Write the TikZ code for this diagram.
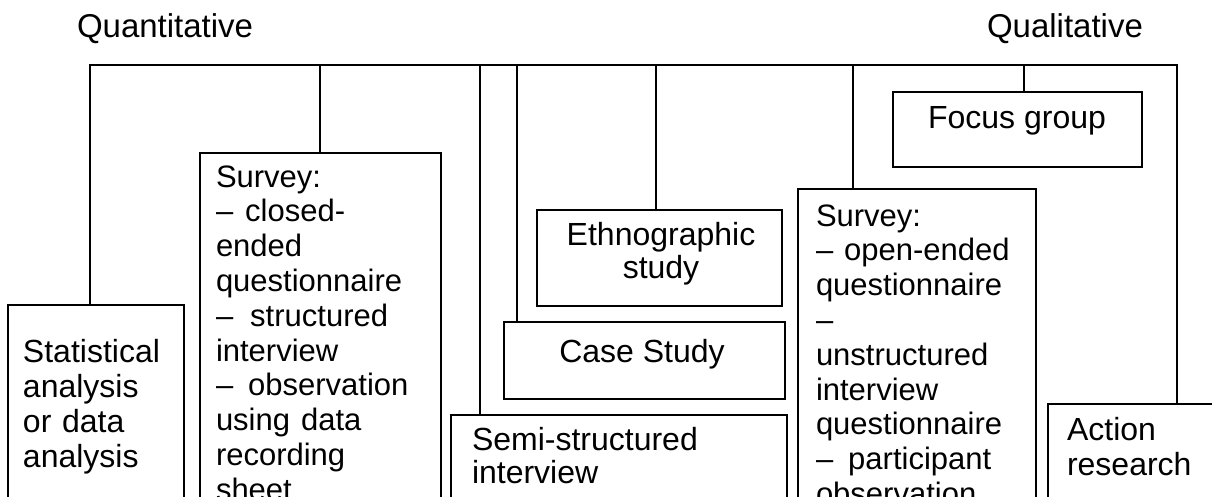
\documentclass[tikz,border=0pt]{standalone}
\usepackage{fontspec}
\setmainfont{Liberation Sans}
\begin{document}
\begin{tikzpicture}[x=1pt,y=-1pt,line width=1.8pt,
  box/.style={draw,rectangle,inner sep=0pt,outer sep=0pt,anchor=north west},
  lbl/.style={inner sep=0pt,outer sep=0pt,text width=300pt,align=left,anchor=base west,
              font=\fontsize{32}{35}\selectfont},
  head/.style={lbl,font=\fontsize{33}{35}\selectfont},
  svy/.style={lbl,font=\fontsize{31}{34.8}\selectfont},
  ctr/.style={inner sep=0pt,outer sep=0pt,align=center,anchor=base,
              font=\fontsize{32}{33}\selectfont}]
\useasboundingbox (0,0) rectangle (1212,496);
\clip (0,0) rectangle (1212,496);

% headings
\node[head] (quant) at (77,37) {Quantitative};
\node[head] (qual) at (987,37) {Qualitative};

% method boxes (lower ones run past the bottom edge)
\node[box,minimum width=176pt,minimum height=240pt] (stat) at (8,305) {};
\node[box,minimum width=241pt,minimum height=380pt] (surv1) at (200,153) {};
\node[box,minimum width=336pt,minimum height=120pt] (semi) at (451,415) {};
\node[box,minimum width=281pt,minimum height=77pt] (cased) at (504,322) {};
\node[box,minimum width=245pt,minimum height=96pt] (ethno) at (537,210) {};
\node[box,minimum width=238pt,minimum height=340pt] (surv2) at (798,189) {};
\node[box,minimum width=249pt,minimum height=75pt] (focus) at (893,92) {};
\node[box,minimum width=200pt,minimum height=130pt] (act) at (1048,404) {};

% box texts
\node[lbl] (statT) at (23,362) {Statistical\\analysis\\or data\\analysis};
\node[svy] (surv1T) at (216,187) {Survey:\\–\hspace{12pt}closed-\\ended\\questionnaire\\
  –\hspace{17pt}structured\\interview\\–\hspace{15pt}observation\\using\hspace{11pt}data\\recording\\sheet};
\node[lbl,font=\fontsize{32}{33}\selectfont] (semiT) at (472,450) {Semi-structured\\interview};
\node[ctr] (casedT) at (642,362) {Case Study};
\node[ctr,text width=245pt] (ethnoT) at (661,245) {Ethnographic\\study};
\node[svy] (surv2T) at (816,226) {Survey:\\–\hspace{11pt}open-ended\\questionnaire\\–\\unstructured\\
  interview\\questionnaire\\–\hspace{15pt}participant\\observation};
\node[ctr] (focusT) at (1017,128) {Focus group};
\node[lbl] (actT) at (1067,440) {Action\\research};

% top bar and drop lines
\coordinate (t1) at (90,65);
\coordinate (t2) at (320,65);
\coordinate (t3) at (480,65);
\coordinate (t4) at (517,65);
\coordinate (t5) at (656,65);
\coordinate (t6) at (853,65);
\coordinate (t7) at (1024,65);
\coordinate (t8) at (1177,65);
\draw (t1 |- stat.north) -- (t1) -- (t8) -- (t8 |- act.north);
\draw (t2) -- (t2 |- surv1.north);
\draw (t3) -- (t3 |- semi.north);
\draw (t4) -- (t4 |- cased.north);
\draw (t5) -- (t5 |- ethno.north);
\draw (t6) -- (t6 |- surv2.north);
\draw (t7) -- (t7 |- focus.north);
\end{tikzpicture}
\end{document}
